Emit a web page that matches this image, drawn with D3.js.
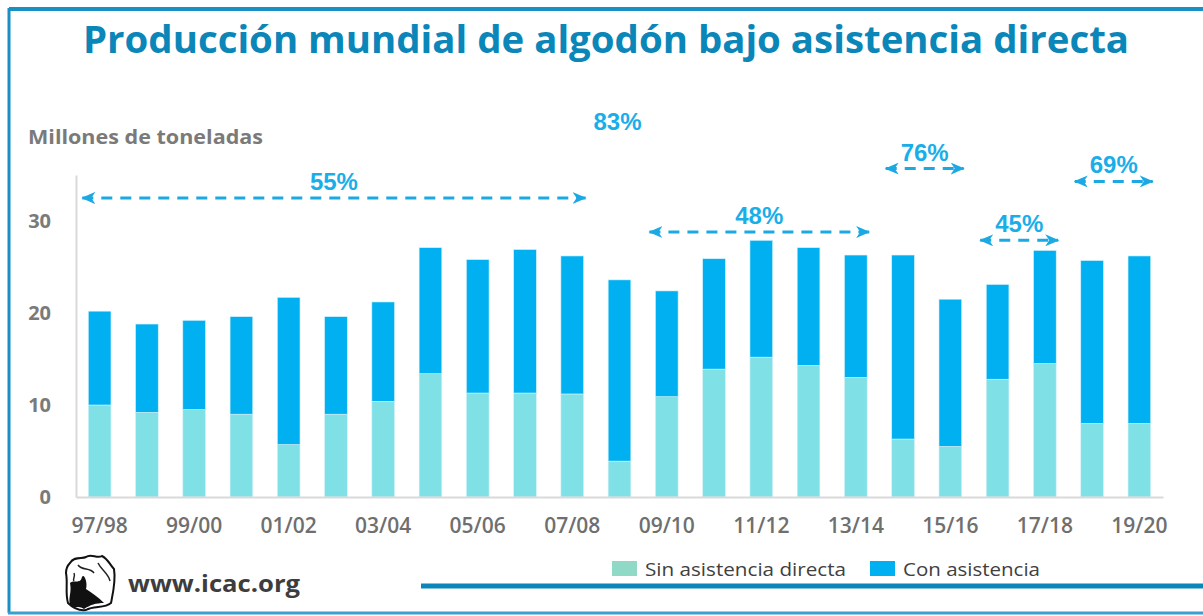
<!DOCTYPE html>
<html>
<head>
<meta charset="utf-8">
<script src="https://cdn.jsdelivr.net/npm/d3@7"></script>
<style>
  body { margin: 0; background: #fff; }
  svg { display: block; }
</style>
</head>
<body>
<div id="chart"></div>
<script>
// campañas algodoneras
const categories = ["97/98","98/99","99/00","00/01","01/02","02/03","03/04","04/05","05/06","06/07","07/08","08/09",
  "09/10","10/11","11/12","12/13","13/14","14/15","15/16","16/17","17/18","18/19","19/20"];
// millones de toneladas
const sinAsistencia = [10.0,9.2,9.5,9.0,5.7,9.0,10.4,13.4,11.3,11.3,11.2,3.9,10.9,13.9,15.2,14.3,13.0,6.3,5.5,12.8,14.5,8.0,8.0];
const conAsistencia = [10.2,9.6,9.7,10.6,16.0,10.6,10.8,13.7,14.5,15.6,15.0,19.7,11.5,12.0,12.7,12.8,13.3,20.0,16.0,10.3,12.3,17.7,18.2];
const yTicks = [0, 10, 20, 30];
const seriesNames = ["Sin asistencia directa", "Con asistencia"];

// share with assistance over periods
const annLabels = ["55%","83%","48%","76%","45%","69%"];
const annFrom = ["97/98","08/09","09/10","14/15","16/17","18/19"];
const annTo = ["07/08","08/09","13/14","15/16","17/18","19/20"];
const annLevel = [32.5, 39.0, 28.8, 35.7, 27.9, 34.3];

function chart(id) {
  const width = 1203, height = 616;
  const div = d3.select(`#${id}`);
  div.selectAll("*").remove();
  const svg = div.append("svg").attr("width", width).attr("height", height);

  const blueDark = "#0a86b8";
  const colors = ["#7fe1e6", "#00b0f0"];
  const legendColors = ["#8fd9c6", "#00b0f0"];
  const annColor = "#1ba9e4";
  const gray = "#7a7a7a";

  // frame
  svg.append("line").attr("x1", 9).attr("x2", width).attr("y1", 9).attr("y2", 9)
    .attr("stroke", "#1a8fc4").attr("stroke-width", 4);
  svg.append("line").attr("x1", 9).attr("x2", 9).attr("y1", 8).attr("y2", 613)
    .attr("stroke", "#1a8fc4").attr("stroke-width", 3);
  svg.append("line").attr("x1", 8).attr("x2", width).attr("y1", 613).attr("y2", 613)
    .attr("stroke", "#3a9fd0").attr("stroke-width", 3);

  // title
  svg.append("text")
    .attr("x", 83).attr("y", 53)
    .attr("textLength", 1046).attr("lengthAdjust", "spacingAndGlyphs")
    .style("font-family", "'Open Sans', sans-serif")
    .style("font-size", "37px").style("font-weight", "bold")
    .attr("fill", blueDark)
    .text("Producción mundial de algodón bajo asistencia directa");

  svg.append("text")
    .attr("x", 28).attr("y", 144)
    .attr("textLength", 235).attr("lengthAdjust", "spacingAndGlyphs")
    .style("font-family", "'Open Sans', sans-serif")
    .style("font-size", "20px").style("font-weight", "bold")
    .attr("fill", gray)
    .text("Millones de toneladas");

  // scales
  const x = d3.scaleBand().domain(categories).range([76, 1163])
    .paddingInner(0.52).paddingOuter(0.26);
  const y = d3.scaleLinear().domain([0, 35]).range([497, 175]);

  const rows = categories.map((c, i) => ({ cat: c, sin: sinAsistencia[i], con: conAsistencia[i] }));
  const stacked = d3.stack().keys(["sin", "con"])(rows);

  svg.append("g").selectAll("g")
    .data(stacked)
    .join("g")
    .attr("fill", (d, i) => colors[i])
    .selectAll("rect")
    .data(d => d)
    .join("rect")
    .attr("x", d => x(d.data.cat))
    .attr("width", x.bandwidth())
    .attr("y", d => y(d[1]))
    .attr("height", d => y(d[0]) - y(d[1]))
    .attr("stroke", "#d6f1fa").attr("stroke-width", 0.6);

  // axes
  const yAxis = svg.append("g").attr("transform", "translate(76,0)")
    .call(d3.axisLeft(y).tickValues(yTicks).tickSize(0).tickPadding(25));
  yAxis.select(".domain").attr("stroke", "#d9d9d9").attr("stroke-width", 2);
  yAxis.selectAll("text")
    .style("font-family", "'Open Sans', sans-serif")
    .style("font-size", "20px").style("font-weight", "bold")
    .attr("fill", gray);

  const xAxis = svg.append("g").attr("transform", "translate(0,497)")
    .call(d3.axisBottom(x).tickValues(categories.filter((c, i) => i % 2 === 0))
      .tickSize(0).tickPadding(21));
  xAxis.select(".domain").attr("stroke", "#d9d9d9").attr("stroke-width", 2);
  xAxis.selectAll("text")
    .style("font-family", "'Open Sans', sans-serif")
    .style("font-size", "21px").style("font-weight", "600")
    .attr("fill", "#6f6f6f");

  // annotations
  const defs = svg.append("defs");
  defs.append("marker")
    .attr("id", "arrow")
    .attr("viewBox", "0 -6 14 12")
    .attr("refX", 13).attr("refY", 0)
    .attr("markerWidth", 14).attr("markerHeight", 12)
    .attr("markerUnits", "userSpaceOnUse")
    .attr("orient", "auto-start-reverse")
    .append("path")
    .attr("d", "M0,-6 L14,0 L0,6 L4,0 Z")
    .attr("fill", annColor);

  const ann = svg.append("g");
  annLabels.forEach((lab, i) => {
    const x0 = x(annFrom[i]) - 6;
    const x1 = x(annTo[i]) + x.bandwidth() + 2;
    const yy = y(annLevel[i]);
    if (annFrom[i] !== annTo[i]) {
      ann.append("line")
        .attr("x1", x0).attr("x2", x1)
        .attr("y1", yy).attr("y2", yy)
        .attr("stroke", annColor).attr("stroke-width", 3)
        .attr("stroke-dasharray", "11,8")
        .attr("marker-start", "url(#arrow)")
        .attr("marker-end", "url(#arrow)");
    }
    ann.append("text")
      .attr("x", (x0 + x1) / 2).attr("y", yy - 8)
      .attr("text-anchor", "middle")
      .style("font-family", "'Liberation Sans', Arial, sans-serif")
      .style("font-size", "24px").style("font-weight", "bold")
      .attr("fill", "#1aaee9")
      .text(lab);
  });

  // legend
  const legend = svg.append("g").attr("transform", "translate(612,561)");
  const legendX = [0, 258];
  const legendW = [201, 137];
  seriesNames.forEach((name, i) => {
    legend.append("rect").attr("x", legendX[i]).attr("y", 0)
      .attr("width", 25).attr("height", 15).attr("fill", legendColors[i]);
    legend.append("text").attr("x", legendX[i] + 33).attr("y", 15)
      .attr("textLength", legendW[i]).attr("lengthAdjust", "spacingAndGlyphs")
      .style("font-family", "'Open Sans', sans-serif")
      .style("font-size", "19px")
      .attr("fill", "#404040")
      .text(name);
  });

  // bottom rule
  svg.append("line").attr("x1", 421).attr("x2", width).attr("y1", 586).attr("y2", 586)
    .attr("stroke", blueDark).attr("stroke-width", 5);

  // logo
  const logo = svg.append("g").attr("transform", "translate(64,553)");
  logo.append("path")
    .attr("d", "M6,10 C10,3 18,6 22,4 C27,0 33,6 38,3 C44,6 46,12 50,16 C52,28 49,40 47,50 C40,56 30,52 22,57 C14,58 8,54 4,50 C1,40 4,30 2,20 C2,15 4,12 6,10 Z")
    .attr("fill", "#fff").attr("stroke", "#111").attr("stroke-width", 2);
  logo.append("path")
    .attr("d", "M6,30 C10,26 16,32 18,24 C20,20 24,30 22,36 C28,40 34,44 40,50 C32,50 26,52 20,56 C14,52 10,56 6,52 C4,44 8,40 6,30 Z")
    .attr("fill", "#111");
  logo.append("path")
    .attr("d", "M14,12 C18,18 26,14 30,20 M34,10 C38,18 44,20 46,28 M10,20 C12,24 8,26 10,28")
    .attr("fill", "none").attr("stroke", "#222").attr("stroke-width", 1.5);

  svg.append("text")
    .attr("x", 128).attr("y", 592)
    .attr("textLength", 172).attr("lengthAdjust", "spacingAndGlyphs")
    .style("font-family", "'Open Sans', sans-serif")
    .style("font-size", "24px").style("font-weight", "bold")
    .attr("fill", "#3d3d3d")
    .text("www.icac.org");
}

chart("chart");
</script>
</body>
</html>
